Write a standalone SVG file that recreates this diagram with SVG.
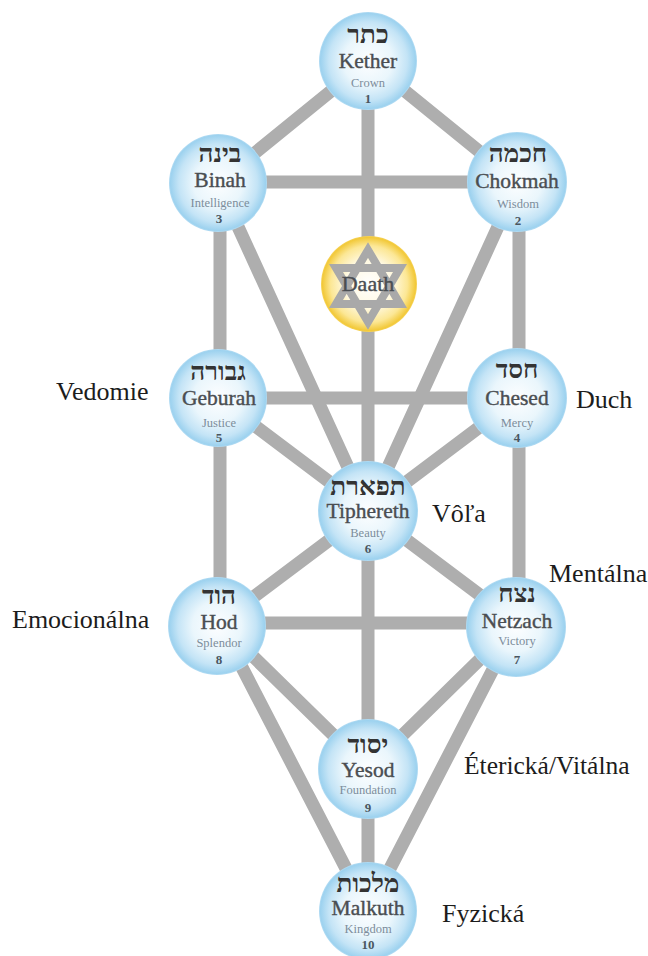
<svg xmlns="http://www.w3.org/2000/svg" width="648" height="956" viewBox="0 0 648 956">
<style>
.c{stroke:#aeaeae;stroke-width:13;fill:none}
.b{fill:url(#blue)}
text{text-anchor:middle;fill:#3d4144}
.h{font-family:"Liberation Serif","DejaVu Serif",serif;font-size:26px;font-weight:bold;fill:#333}
.n{font-family:"Liberation Serif",serif;font-size:21.5px;fill:#4a4e52;stroke:#4a4e52;stroke-width:.4}
.s{font-family:"Liberation Serif",serif;font-size:12.5px;fill:#7c8d9b}
.d{font-family:"Liberation Serif",serif;font-size:13px;font-weight:bold;fill:#4a5660}
.l{font-family:"Liberation Serif",serif;font-size:26px;fill:#1c1c1c;text-anchor:start}
</style>
<defs>
<radialGradient id="blue" cx="50%" cy="50%" r="50%">
<stop offset="0" stop-color="#fdfeff"/><stop offset=".5" stop-color="#eaf6fc"/><stop offset=".8" stop-color="#c4e4f6"/><stop offset=".97" stop-color="#9dd2ef"/><stop offset="1" stop-color="#b4dcf3"/>
</radialGradient>
<radialGradient id="gold" cx="50%" cy="50%" r="50%">
<stop offset="0" stop-color="#fff"/><stop offset=".5" stop-color="#fff9e2"/><stop offset=".8" stop-color="#fce795"/><stop offset=".97" stop-color="#f2c93a"/><stop offset="1" stop-color="#f6d35c"/>
</radialGradient>
</defs>
<rect width="648" height="956" fill="#fff"/>
<g id="connectors" class="c">
<path d="M368 61V911"/>
<path d="M368 61L218 183M368 61L518 183M218 182H518"/>
<path d="M220 183V623M519 183V623"/>
<path d="M218 183L368 511M518 183L368 511"/>
<path d="M218 398H518M218 398L368 511M518 398L368 511"/>
<path d="M368 511L219 623M368 511L517 623M219 623H517"/>
<path d="M219 623L368 769M517 623L368 769"/>
<path d="M219 623L368 911M517 623L368 911"/>
</g>
<g id="kether"><circle class="b" cx="368" cy="61" r="49"/><text class="h" x="368" y="43">כתר</text><text class="n" x="368" y="68">Kether</text><text class="s" x="368" y="87">Crown</text><text class="d" x="368" y="103">1</text></g>
<g id="binah"><circle class="b" cx="218" cy="183" r="49"/><text class="h" x="220" y="162">בינה</text><text class="n" x="220" y="187">Binah</text><text class="s" x="220" y="207">Intelligence</text><text class="d" x="219" y="223">3</text></g>
<g id="chokmah"><circle class="b" cx="517" cy="182" r="50"/><text class="h" x="518" y="162">חכמה</text><text class="n" x="517" y="188">Chokmah</text><text class="s" x="518" y="208">Wisdom</text><text class="d" x="518" y="225">2</text></g>
<g id="daath"><circle cx="369" cy="284" r="48" fill="url(#gold)"/>
<path d="M368 250L400 304H336ZM368 322L400 268H336Z" fill="none" stroke="#a9a9a9" stroke-width="8" stroke-linejoin="miter"/>
<text class="n" x="368" y="291" style="font-size:22px">Daath</text></g>
<g id="geburah"><circle class="b" cx="218" cy="398" r="49"/><text class="h" x="218" y="380">גבורה</text><text class="n" x="219" y="405">Geburah</text><text class="s" x="219" y="427">Justice</text><text class="d" x="219" y="442">5</text></g>
<g id="chesed"><circle class="b" cx="517" cy="398" r="50"/><text class="h" x="517" y="378">חסד</text><text class="n" x="517" y="405">Chesed</text><text class="s" x="517" y="427">Mercy</text><text class="d" x="517" y="442">4</text></g>
<g id="tiphereth"><circle class="b" cx="368" cy="511" r="50"/><text class="h" x="368" y="495">תפארת</text><text class="n" x="368" y="518">Tiphereth</text><text class="s" x="368" y="537">Beauty</text><text class="d" x="368" y="553">6</text></g>
<g id="hod"><circle class="b" cx="217" cy="626" r="49"/><text class="h" x="219" y="604">הוד</text><text class="n" x="219" y="629">Hod</text><text class="s" x="219" y="647">Splendor</text><text class="d" x="219" y="664">8</text></g>
<g id="netzach"><circle class="b" cx="516" cy="627" r="50"/><text class="h" x="517" y="602">נצח</text><text class="n" x="517" y="628">Netzach</text><text class="s" x="517" y="645">Victory</text><text class="d" x="517" y="664">7</text></g>
<g id="yesod"><circle class="b" cx="368" cy="769" r="50"/><text class="h" x="368" y="753">יסוד</text><text class="n" x="368" y="777">Yesod</text><text class="s" x="368" y="794">Foundation</text><text class="d" x="368" y="812">9</text></g>
<g id="malkuth"><circle class="b" cx="368" cy="911" r="49"/><text class="h" x="368" y="892">מלכות</text><text class="n" x="368" y="915">Malkuth</text><text class="s" x="368" y="933">Kingdom</text><text class="d" x="368" y="949">10</text></g>
<g id="labels">
<text class="l" x="56" y="400">Vedomie</text>
<text class="l" x="576" y="408">Duch</text>
<text class="l" x="432" y="522">Vôľa</text>
<text class="l" x="549" y="582">Mentálna</text>
<text class="l" x="12" y="628">Emocionálna</text>
<text class="l" x="464" y="774" style="font-size:25.5px">Éterická/Vitálna</text>
<text class="l" x="442" y="922">Fyzická</text>
</g>
</svg>
